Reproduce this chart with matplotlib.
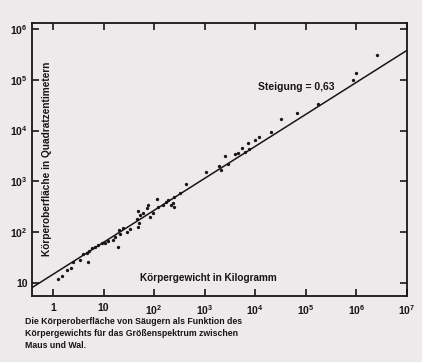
import numpy as np
import matplotlib
matplotlib.use('Agg')
import matplotlib.pyplot as plt

plt.rcParams['font.family'] = ['Liberation Sans', 'DejaVu Sans']
plt.rcParams['mathtext.fontset'] = 'custom'
plt.rcParams['mathtext.rm'] = 'Liberation Sans:bold'
plt.rcParams['mathtext.it'] = 'Liberation Sans:bold'
plt.rcParams['mathtext.bf'] = 'Liberation Sans:bold'

# body weight (kg) and body surface (cm^2)
gewicht = [2.5e6, 1.0e6, 8.6e5, 1.7e5, 6.6e4, 3.2e4, 2.0e4, 1.2e4, 9.8e3, 7.2e3,
           7.5e3, 5.4e3, 6.2e3, 4.6e3, 4.0e3, 2.5e3, 2.9e3, 1.9e3, 2.1e3, 1.05e3,
           425, 324, 250, 190, 170, 240, 213, 246, 112, 151,
           120, 76, 71, 49, 61, 52, 96, 83, 45, 51,
           49, 33, 29.5, 24.5, 20, 21, 16.8, 15.5, 19.5, 12.4,
           10.7, 9.2, 7.9, 6.8, 5.8, 5.2, 4.7, 4.0, 3.4, 5.0,
           2.5, 2.3, 1.9, 1.5, 1.27]
oberflaeche = [3.1e5, 1.35e5, 1.0e5, 3.3e4, 2.2e4, 1.7e4, 9.4e3, 7.6e3, 6.5e3, 5.6e3,
               4.4e3, 4.5e3, 3.85e3, 3.7e3, 3.5e3, 3.1e3, 2.2e3, 2.0e3, 1.66e3, 1.55e3,
               870, 600, 500, 430, 400, 380, 343, 310, 445, 343,
               310, 343, 295, 265, 235, 218, 235, 202, 178, 150,
               129, 114, 102, 120, 110, 92, 81, 70, 52, 68,
               60, 62, 56, 52, 48, 43, 39, 37, 28, 26,
               26, 19.5, 18, 13.7, 11.8]

steigung = 0.63
achsenabschnitt = 14.8

xticks = [1, 10, 1e2, 1e3, 1e4, 1e5, 1e6, 1e7]
xlabels = ['1', '10', r'$10^2$', r'$10^3$', r'$10^4$', r'$10^5$', r'$10^6$', r'$10^7$']
yticks = [10, 1e2, 1e3, 1e4, 1e5, 1e6]
ylabels = ['10', r'$10^2$', r'$10^3$', r'$10^4$', r'$10^5$', r'$10^6$']

bg = '#eeeaec'
ink = '#161616'

fig = plt.figure(figsize=(4.22, 3.62), dpi=100, facecolor=bg)
ax = fig.add_axes([0.0758, 0.1823, 0.8887, 0.7542])
ax.set_facecolor(bg)

ax.set_xscale('log')
ax.set_yscale('log')
ax.set_xlim(10**-0.415, 1e7)
ax.set_ylim(10**0.744, 10**6.118)

xl = np.logspace(-0.415, 7, 50)
ax.plot(xl, achsenabschnitt * xl**steigung, color=ink, lw=1.1, zorder=2)
ax.plot(gewicht, oberflaeche, 'o', color=ink, ms=2.4, mew=0, zorder=3)

ax.set_xticks(xticks)
ax.set_xticklabels(xlabels)
ax.set_yticks(yticks)
ax.set_yticklabels(ylabels)
ax.minorticks_off()
ax.tick_params(which='major', direction='in', length=5, width=1.2, color=ink,
               labelsize=7.5, labelcolor=ink, top=True, right=True)
ax.tick_params(axis='x', pad=5)
ax.tick_params(axis='y', pad=3)
for lab in ax.get_xticklabels() + ax.get_yticklabels():
    lab.set_fontweight('bold')
for s in ax.spines.values():
    s.set_linewidth(1.3)
    s.set_color(ink)

ax.text(10**4.06, 10**4.85, 'Steigung = 0,63', fontsize=7.5, fontweight='bold',
        color=ink, ha='left', va='center')
ax.text(10**1.72, 10**1.1, 'Körpergewicht in Kilogramm', fontsize=7.2,
        fontweight='bold', color=ink, ha='left', va='center')
ax.text(10**-0.12, 10**3.45, 'Körperoberfläche in Quadratzentimetern', fontsize=7.3,
        fontweight='bold', color=ink, ha='center', va='center', rotation=90)

fig.text(25 / 422, 1 - 317 / 362,
         'Die Körperoberfläche von Säugern als Funktion des\n'
         'Körpergewichts für das Größenspektrum zwischen\n'
         'Maus und Wal.',
         fontsize=6.3, fontweight='bold', color=ink, ha='left', va='top',
         linespacing=1.4)

fig.savefig('out.png', dpi=100, facecolor=bg)
